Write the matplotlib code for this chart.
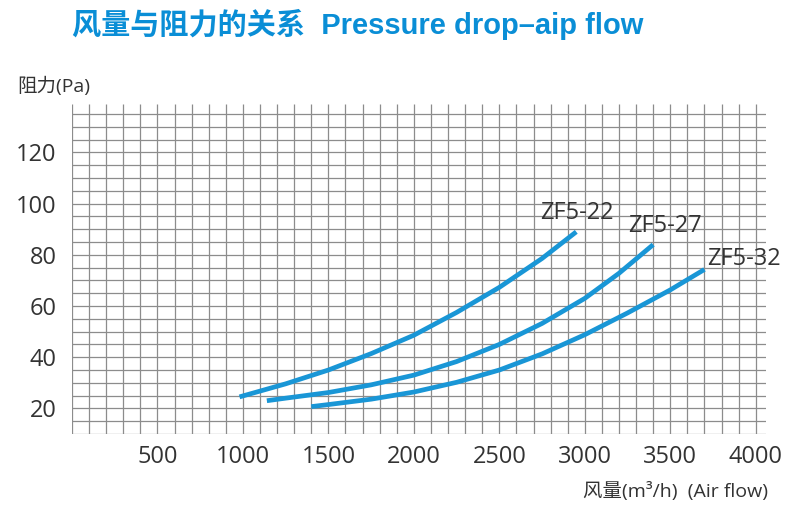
import numpy as np
import matplotlib
matplotlib.use("Agg")
from matplotlib import pyplot as plt

plt.rcParams["font.family"] = ["Open Sans", "Noto Sans CJK SC", "DejaVu Sans"]

# values
flow_22 = [980, 1250, 1500, 1750, 2000, 2250, 2500, 2750, 2950]
drop_22 = [24.5, 29.6, 35, 41.4, 48.6, 57.5, 67.3, 78.6, 89]

flow_27 = [1140, 1250, 1500, 1750, 2000, 2250, 2500, 2750, 3000, 3200, 3400]
drop_27 = [23, 24, 26.2, 29.2, 33, 38.3, 45, 53.2, 63, 72.8, 84]

flow_32 = [1400, 1500, 1750, 2000, 2250, 2500, 2750, 3000, 3250, 3500, 3700]
drop_32 = [20.7, 21.5, 23.6, 26.4, 30.2, 35, 41.3, 48.8, 57.3, 66.3, 74.3]

series = [
    ("ZF5-22", flow_22, drop_22, (2737, 96.3)),
    ("ZF5-27", flow_27, drop_27, (3251, 91.2)),
    ("ZF5-32", flow_32, drop_32, (3713, 78.4)),
]

x_ticks = [500, 1000, 1500, 2000, 2500, 3000, 3500, 4000]
y_ticks = [20, 40, 60, 80, 100, 120]

blue = "#1996d6"
grid_col = "#8c8c8c"
text_col = "#333333"

fig = plt.figure(figsize=(8, 5.15), dpi=100)
ax = fig.add_axes([0.09, 0.1573, 0.8675, 0.641])
ax.set_xlim(0, 4060)
ax.set_ylim(10, 139)

# grid drawn by hand: vertical lines stick out above the top row
ax.vlines(np.arange(0, 4001, 100), 10, 139, color=grid_col, lw=0.9, zorder=1)
ax.hlines(np.arange(10, 136, 5), 0, 4060, color=grid_col, lw=0.9, zorder=1)

for name, xs, ys, pos in series:
    ax.plot(xs, ys, color=blue, lw=3.4, solid_capstyle="butt",
            solid_joinstyle="round", zorder=3)
    ax.text(pos[0], pos[1], name, fontsize=17, color=text_col,
            ha="left", va="center", zorder=4)

for s in ax.spines.values():
    s.set_visible(False)
ax.set_xticks(x_ticks)
ax.set_yticks(y_ticks)
ax.tick_params(length=0, labelsize=17, colors=text_col)
ax.tick_params(axis="x", pad=8)
ax.tick_params(axis="y", pad=11)

fig.text(0.09, 0.952, "风量与阻力的关系  Pressure drop–aip flow",
         fontsize=21, fontweight="bold", color="#0a8ed6",
         family=["Liberation Sans", "Noto Sans CJK SC"],
         ha="left", va="center")
fig.text(0.021, 0.833, "阻力(Pa)", fontsize=14, color=text_col,
         ha="left", va="center")
fig.text(0.96, 0.045, "风量(m³/h)  (Air flow)", fontsize=14,
         color=text_col, ha="right", va="center")

fig.savefig("out.png", dpi=100, facecolor="white")
